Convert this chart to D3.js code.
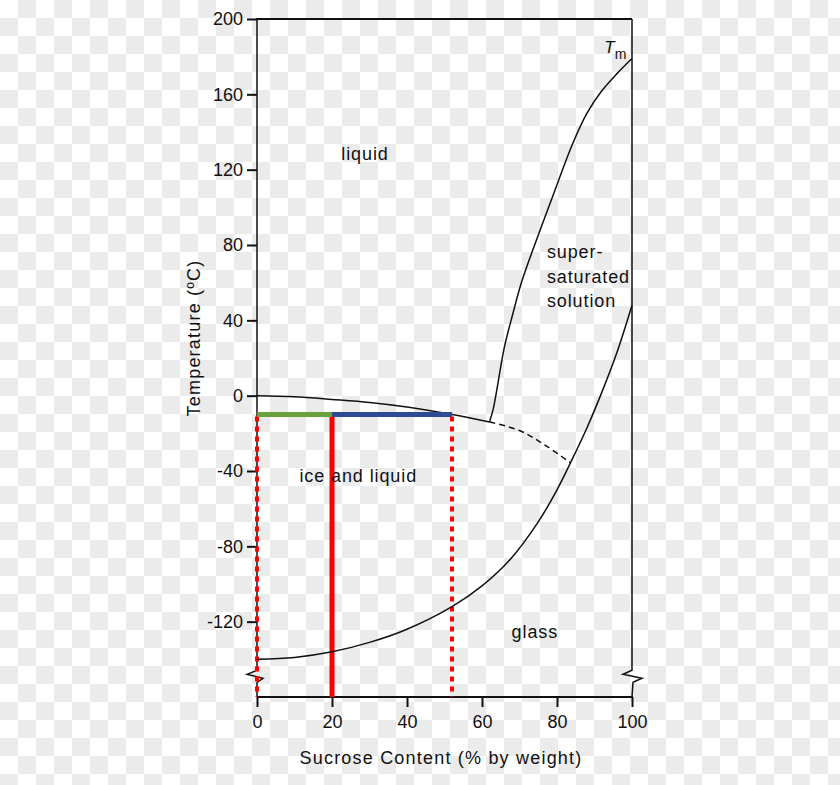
<!DOCTYPE html>
<html lang="en">
<head>
<meta charset="utf-8">
<title>Sucrose state diagram</title>
<script src="https://d3js.org/d3.v7.min.js"></script>
<style>
  body { margin: 0; }
  svg text { font-family: "Liberation Sans", Arial, sans-serif; fill: #111; }
  .curve { fill: none; stroke: #111; stroke-width: 1.5px; }
</style>
</head>
<body>
<script>
// chart data
const xTicks = [0, 20, 40, 60, 80, 100];
const yTicks = [-120, -80, -40, 0, 40, 80, 120, 160, 200];

// ice melting curve (solid part, then dashed extension)
const freezeCurve = [[0, 0], [10, -0.6], [20, -2], [30, -3.6], [40, -6], [52, -10], [62, -14]];
const freezeDashed = [[62, -14], [70, -18.5], [77, -26.5], [83.5, -35.5]];
// solubility curve Tm
const meltCurve = [[62, -14], [63, -7], [66, 26], [68.3, 44], [70.5, 60], [75.5, 88], [80, 112], [84, 133], [88, 150], [92, 162], [96, 171], [100, 179]];
// glass transition curve
const glassCurve = [[0, -140], [10, -139], [20, -136], [30, -131], [40, -124], [52, -112], [60, -101], [67.5, -87], [75, -67], [80, -50], [84, -34], [88, -17], [92, 2], [96, 23], [100, 48]];

// freezing step at -10 C
const stepTemp = -10;
const greenSeg = [0, 20];
const blueSeg = [20, 52];
const solidRed = 20;
const dottedRed = [0, 52];

const labels = [
  {text: "liquid", x: 28.8, y: 125, anchor: "middle"},
  {text: "ice and liquid", x: 27, y: -45.8, anchor: "middle"},
  {text: "glass", x: 74.1, y: -128.7, anchor: "middle"},
  {text: "super-", x: 77.3, y: 73.1, anchor: "start"},
  {text: "saturated", x: 77.3, y: 59.8, anchor: "start"},
  {text: "solution", x: 77.3, y: 47.1, anchor: "start"}
];

const w = 840, h = 785;
const mLeft = 257, mRight = 632, mTop = 19, mBottom = 697;
const breakT = -149; // axis break position

const svg = d3.select("body").append("svg")
  .attr("width", w).attr("height", h);

// transparent-look checkerboard
const defs = svg.append("defs");
const pat = defs.append("pattern").attr("id", "checker")
  .attr("width", 36).attr("height", 36).attr("patternUnits", "userSpaceOnUse");
pat.append("rect").attr("width", 36).attr("height", 36).attr("fill", "#ffffff");
pat.append("rect").attr("x", 18).attr("y", 0).attr("width", 18).attr("height", 18).attr("fill", "#ebebeb");
pat.append("rect").attr("x", 0).attr("y", 18).attr("width", 18).attr("height", 18).attr("fill", "#ebebeb");
svg.append("rect").attr("width", w).attr("height", h).attr("fill", "url(#checker)");

const xScale = d3.scaleLinear().domain([0, 100]).range([mLeft, mRight]);
const yScale = d3.scaleLinear().domain([-160, 200]).range([mBottom, mTop]);

// axes
const xAxis = d3.axisBottom(xScale).tickValues(xTicks).tickSize(10).tickPadding(8);
const gx = svg.append("g").attr("transform", "translate(0," + mBottom + ")").call(xAxis);
gx.select(".domain").remove();
gx.selectAll(".tick line").attr("stroke", "#111").attr("stroke-width", 2);
gx.selectAll(".tick text").attr("font-size", "18px").attr("fill", "#111");

const yAxis = d3.axisLeft(yScale).tickValues(yTicks).tickSize(10).tickPadding(4)
  .tickFormat(d => String(d));
const gy = svg.append("g").attr("transform", "translate(" + mLeft + ",0)").call(yAxis);
gy.select(".domain").remove();
gy.selectAll(".tick line").attr("stroke", "#111").attr("stroke-width", 2);
gy.selectAll(".tick text").attr("font-size", "18px").attr("fill", "#111");

// frame: top, bottom and the two vertical sides with break marks
const yb = yScale(breakT);
const frame = svg.append("g").attr("fill", "none").attr("stroke", "#111").attr("stroke-width", 2);
frame.append("line").attr("x1", mLeft - 1).attr("x2", mRight).attr("y1", mTop).attr("y2", mTop);
frame.append("line").attr("x1", mLeft).attr("x2", mRight + 1).attr("y1", mBottom).attr("y2", mBottom);
frame.append("path").attr("stroke-width", 1.5)
  .attr("d", `M${mLeft},${mTop} L${mLeft},${yb - 6} L${mLeft - 10},${yb - 2} L${mLeft + 6},${yb + 2} L${mLeft},${yb + 6} L${mLeft},${mBottom}`);
frame.append("path").attr("stroke-width", 1.5)
  .attr("d", `M${mRight},${mTop} L${mRight},${yb - 6} L${mRight - 9},${yb - 2} L${mRight + 10},${yb + 2} L${mRight + 1},${yb + 6} L${mRight},${mBottom}`);

const line = d3.line()
  .curve(d3.curveCatmullRom.alpha(0.5))
  .x(d => xScale(d[0]))
  .y(d => yScale(d[1]));

// red lines
svg.append("line")
  .attr("x1", xScale(solidRed)).attr("x2", xScale(solidRed))
  .attr("y1", yScale(stepTemp)).attr("y2", mBottom)
  .attr("stroke", "#ff0000").attr("stroke-width", 5);

svg.selectAll(".dotred").data(dottedRed).join("line")
  .attr("class", "dotred")
  .attr("x1", d => xScale(d)).attr("x2", d => xScale(d))
  .attr("y1", yScale(stepTemp) + 2).attr("y2", mBottom)
  .attr("stroke", "#ff0000").attr("stroke-width", 4)
  .attr("stroke-dasharray", "5,5");

// curves
svg.append("path").attr("class", "curve").attr("d", line(freezeCurve));
svg.append("path").attr("class", "curve").attr("d", line(freezeDashed)).attr("stroke-dasharray", "6,4");
svg.append("path").attr("class", "curve").attr("d", line(meltCurve));
svg.append("path").attr("class", "curve").attr("d", line(glassCurve));

// horizontal step at -10
svg.append("line")
  .attr("x1", xScale(greenSeg[0])).attr("x2", xScale(greenSeg[1]))
  .attr("y1", yScale(stepTemp)).attr("y2", yScale(stepTemp))
  .attr("stroke", "#6aa13c").attr("stroke-width", 5);
svg.append("line")
  .attr("x1", xScale(blueSeg[0])).attr("x2", xScale(blueSeg[1]))
  .attr("y1", yScale(stepTemp)).attr("y2", yScale(stepTemp))
  .attr("stroke", "#2e4a96").attr("stroke-width", 5);

// region labels
svg.selectAll(".lab").data(labels).join("text")
  .attr("class", "lab")
  .attr("x", d => xScale(d.x)).attr("y", d => yScale(d.y))
  .attr("text-anchor", d => d.anchor)
  .attr("font-size", "18px")
  .attr("letter-spacing", "0.9px")
  .text(d => d.text);

// T_m label
const tm = svg.append("text")
  .attr("x", xScale(92.6)).attr("y", yScale(182))
  .attr("font-size", "17px").attr("font-style", "italic");
tm.append("tspan").text("T");
tm.append("tspan").attr("dy", 6).attr("font-size", "14px").attr("font-style", "normal").text("m");

// axis titles
svg.append("text")
  .attr("x", 441).attr("y", 764)
  .attr("text-anchor", "middle").attr("font-size", "18px").attr("letter-spacing", "1.2px")
  .text("Sucrose Content (% by weight)");

svg.append("text")
  .attr("transform", "translate(200,338) rotate(-90)")
  .attr("text-anchor", "middle").attr("font-size", "18px").attr("letter-spacing", "1.2px")
  .text("Temperature (ºC)");
</script>
</body>
</html>
